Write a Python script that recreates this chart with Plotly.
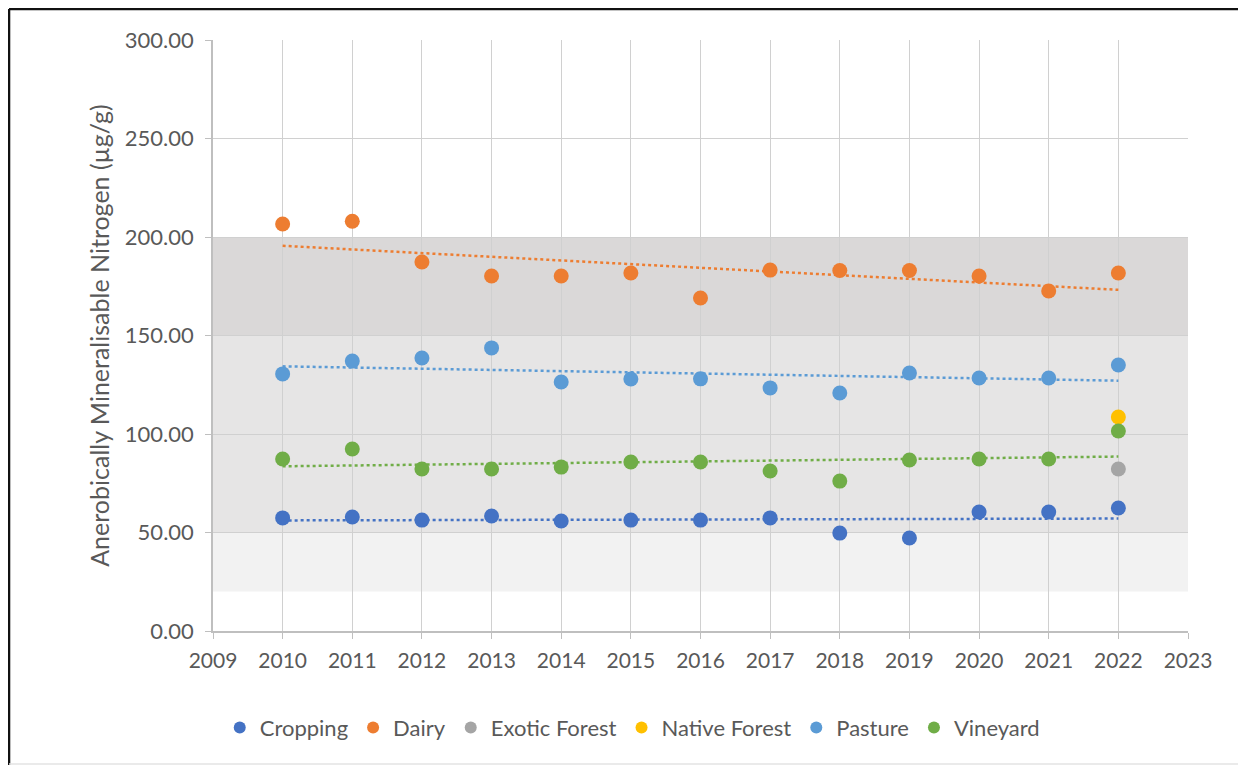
import numpy as np
import plotly.graph_objects as go

years = [2010, 2011, 2012, 2013, 2014, 2015, 2016, 2017, 2018, 2019, 2020, 2021, 2022]
cropping = [57.4, 57.9, 56.3, 58.4, 55.8, 56.3, 56.3, 57.4, 49.7, 47.2, 60.4, 60.4, 62.4]
dairy = [206.6, 208.0, 187.3, 180.2, 180.2, 181.7, 169.0, 183.2, 183.0, 183.0, 180.2, 172.6, 181.7]
pasture = [130.5, 137.0, 138.6, 143.7, 126.4, 127.9, 128.0, 123.4, 120.8, 131.0, 128.4, 128.4, 135.0]
vineyard = [87.3, 92.4, 82.2, 82.2, 83.2, 85.8, 85.8, 81.2, 76.1, 86.8, 87.3, 87.3, 101.5]
exotic_years = [2022]
exotic = [82.2]
native_years = [2022]
native = [108.6]

bands = [(20, 50, "#f2f2f2"), (50, 150, "#e6e5e5"), (150, 200, "#dad8d8")]

FONT = "Lato, Open Sans, sans-serif"
TXT = "#595959"

series = [
    ("Cropping", years, cropping, "#4472c4", True),
    ("Dairy", years, dairy, "#ed7d31", True),
    ("Exotic Forest", exotic_years, exotic, "#a5a5a5", False),
    ("Native Forest", native_years, native, "#ffc000", False),
    ("Pasture", years, pasture, "#5b9bd5", True),
    ("Vineyard", years, vineyard, "#70ad47", True),
]

fig = go.Figure()
for name, xs, ys, col, trend in series:
    if trend:
        a, b = np.polyfit(xs, ys, 1)
        tx = [xs[0], xs[-1]]
        fig.add_trace(go.Scatter(x=tx, y=[a * v + b for v in tx], mode="lines",
                                 line=dict(color=col, width=2.5, dash="dot"),
                                 showlegend=False, hoverinfo="skip"))
for name, xs, ys, col, trend in series:
    fig.add_trace(go.Scatter(x=xs, y=ys, mode="markers", name=name,
                             marker=dict(color=col, size=15, line=dict(width=0))))

shapes = []
for lo, hi, c in bands:
    shapes.append(dict(type="rect", xref="paper", yref="y", x0=0, x1=1, y0=lo, y1=hi,
                       fillcolor=c, line=dict(width=0), layer="below"))
# outer frame: black top and left edges, faint bottom edge
shapes.append(dict(type="line", xref="paper", yref="paper", x0=-0.2092, x1=1.07,
                   y0=1.0525, y1=1.0525, line=dict(color="#111111", width=2.5), layer="above"))
shapes.append(dict(type="line", xref="paper", yref="paper", x0=-0.2092, x1=-0.2092,
                   y0=-0.25, y1=1.0525, line=dict(color="#111111", width=2.5), layer="above"))
shapes.append(dict(type="line", xref="paper", yref="paper", x0=-0.2092, x1=1.07,
                   y0=-0.225, y1=-0.225, line=dict(color="#e3e3e3", width=1.5), layer="above"))

fig.update_layout(
    width=1246, height=765,
    margin=dict(l=205, r=66, t=32, b=142),
    paper_bgcolor="white", plot_bgcolor="white",
    font=dict(family=FONT, color=TXT, size=21),
    shapes=shapes,
    showlegend=True,
    legend=dict(orientation="h", x=0.43, xanchor="center", y=-0.128, yanchor="top",
                font=dict(size=22, color=TXT), itemsizing="constant",
                traceorder="normal", itemwidth=30),
)
fig.update_xaxes(range=[2009, 2023], dtick=1, tick0=2009, showgrid=True,
                 gridcolor="#d0d0d0", gridwidth=1.3, showline=True, linecolor="#bfbfbf",
                 linewidth=1.5, ticks="outside", ticklen=6, tickcolor="#bfbfbf",
                 ticklabelstandoff=4,
                 zeroline=False, tickfont=dict(size=21, color=TXT))
fig.update_yaxes(range=[0, 300], dtick=50, tickformat=".2f", showgrid=True,
                 gridcolor="#d0d0d0", gridwidth=1.3, showline=True, linecolor="#bfbfbf",
                 linewidth=1.5, ticks="outside", ticklen=6, tickcolor="#bfbfbf",
                 ticklabelstandoff=7,
                 zeroline=False, tickfont=dict(size=22, color=TXT),
                 title=dict(text="Anerobically Mineralisable Nitrogen (µg/g)",
                            font=dict(size=25, color=TXT), standoff=8))

fig.write_html("out.html")
